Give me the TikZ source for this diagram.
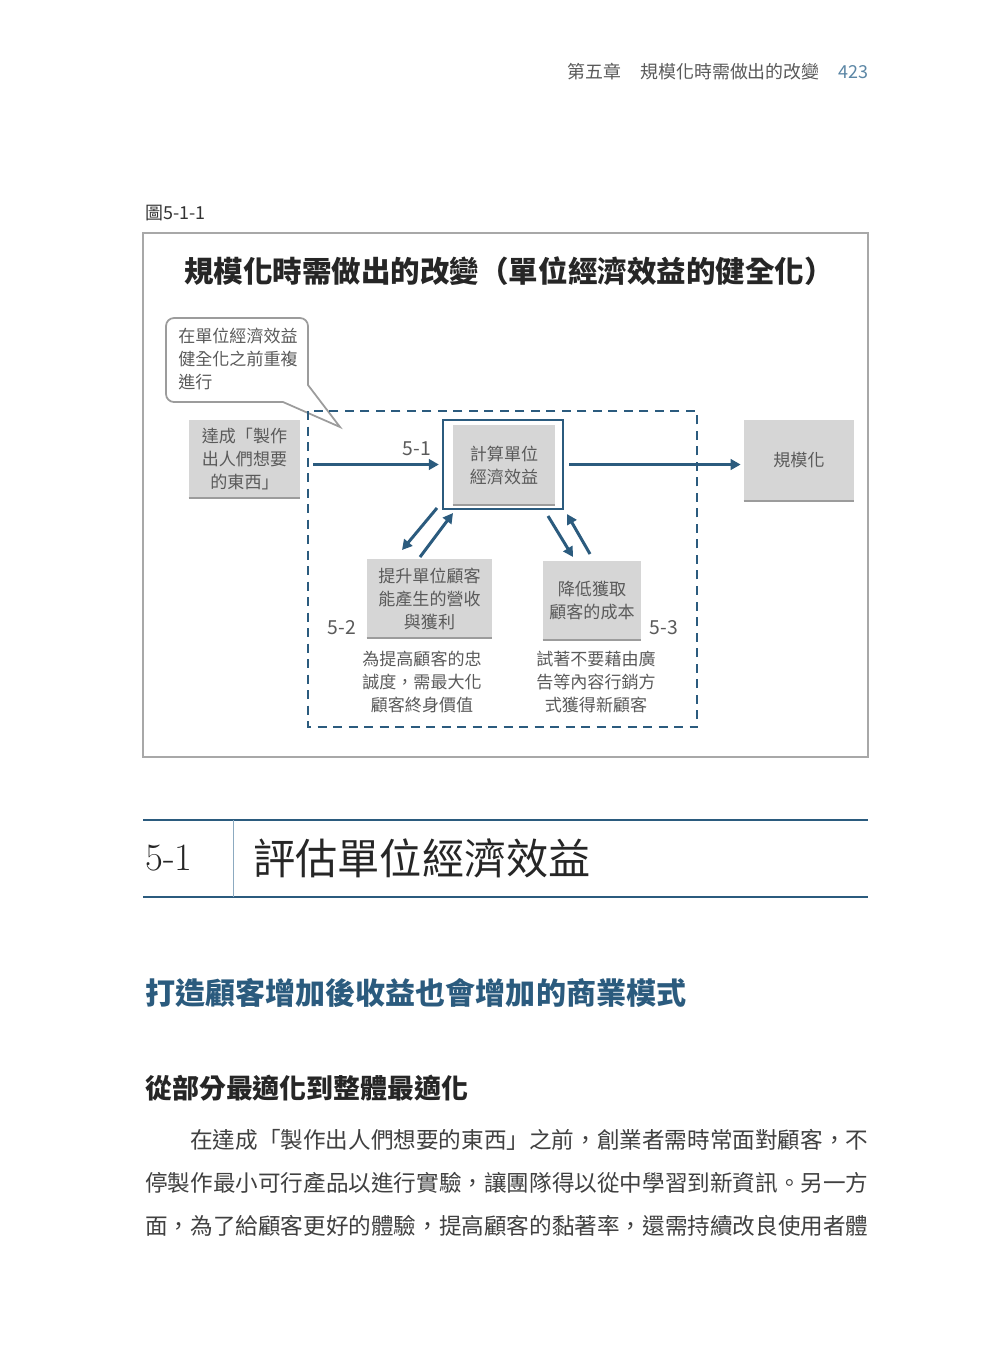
\documentclass[tikz,border=0pt]{standalone}
\usepackage{fontspec}
\newfontfamily\cjk{Noto Sans CJK TC}
\usetikzlibrary{arrows.meta}
\definecolor{inkblue}{HTML}{2B5B7E}
\definecolor{boxgray}{HTML}{D6D6D6}
\definecolor{edgegray}{HTML}{9C9C9C}
\definecolor{txtgray}{HTML}{5A5A5A}
\definecolor{framegray}{HTML}{A8A8A8}
\definecolor{pageblue}{HTML}{5B86A5}

\begin{document}
\begin{tikzpicture}[x=0.2mm, y=-0.2mm,
  graybox/.style={fill=boxgray, align=center, text=txtgray, inner sep=0pt,
    font=\cjk\fontsize{9.7}{13.1}\selectfont},
  boxedge/.style={draw=edgegray, line width=1.2pt},
  flow/.style={draw=inkblue, line width=1.7pt, -{Triangle[length=2mm,width=2.1mm]}},
  steplabel/.style={font=\cjk\fontsize{11}{13}\selectfont, text=txtgray},
  smalltext/.style={font=\cjk\fontsize{9.7}{13.1}\selectfont, text=txtgray, align=center},
  plain/.style={anchor=west, inner sep=0pt}]
  \fill[white] (0,0) rectangle (1000,1371);
  \useasboundingbox (0,0) rectangle (1000,1371);
  % running head
  \node[plain, font=\cjk\fontsize{10.2}{12}\selectfont, text=txtgray] (chap) at (567,72) {第五章};
  \node[anchor=east, inner sep=0pt, font=\cjk\fontsize{10.2}{12}\selectfont, text=txtgray] (chaptitle) at (820,72) {規模化時需做出的改變};
  \node[plain, font=\cjk\fontsize{10.2}{12}\selectfont, text=pageblue] (pageno) at (838,72) {423};
  % figure
  \node[plain, font=\cjk\fontsize{10.2}{12}\selectfont, text=black!80] (figlabel) at (145,213) {圖5-1-1};
  \draw[framegray, line width=0.6pt] (143,233) rectangle (868,757);
  \node[font=\cjk\bfseries\fontsize{16.8}{20}\selectfont, text=black!85] (title) at (509,271) {規模化時需做出的改變（單位經濟效益的健全化）};
  \draw[edgegray, line width=1pt, rounded corners=1.6mm] (166,360) |- (308,318)
    [sharp corners] -- (308,385) -- (340,427) -- (283,402)
    [rounded corners=1.6mm] -| (166,360) -- cycle;
  \node[plain, align=left, font=\cjk\fontsize{9.7}{13.1}\selectfont, text=txtgray] (note) at (178,359) {在單位經濟效益\\健全化之前重複\\進行};
  \draw[inkblue, line width=1.1pt, dash pattern=on 1.8mm off 1.3mm] (308,411) rectangle (697,727);
  % boxes
  \node[graybox, minimum width=22.2mm, minimum height=15.6mm] (want) at (244.5,459) {達成「製作\\出人們想要\\的東西」};
  \node[graybox, minimum width=20.4mm, minimum height=16mm] (calc) at (504,465) {計算單位\\經濟效益};
  \node[draw=inkblue, line width=1.3pt, minimum width=24mm, minimum height=17.8mm] (calcframe) at (503,464.5) {};
  \node[graybox, minimum width=22mm, minimum height=16.2mm] (scale) at (799,460.5) {規模化};
  \node[graybox, minimum width=25mm, minimum height=15.8mm] (revenue) at (429.5,598.5) {提升單位顧客\\能產生的營收\\與獲利};
  \node[graybox, minimum width=19.6mm, minimum height=15.8mm] (cac) at (592,600.5) {降低獲取\\顧客的成本};
  \foreach \n in {want,calc,scale,revenue,cac}
    \draw[boxedge] (\n.south west) -- (\n.south east);
  % arrows
  \coordinate (in51) at (313,464.5);
  \draw[flow, shorten >=0.6mm] (in51) -- (calcframe.west);
  \draw[flow, shorten <=1mm, shorten >=0.6mm] (calcframe.east) -- (calcframe.east -| scale.west);
  \coordinate (downL) at (437,508);
  \coordinate (downLend) at (402,550);
  \coordinate (upL) at (420,557);
  \coordinate (upLend) at (453,513);
  \coordinate (downR) at (548,516);
  \coordinate (downRend) at (573,557);
  \coordinate (upR) at (590,554);
  \coordinate (upRend) at (567,514);
  \draw[flow] (downL) -- (downLend);
  \draw[flow] (upL) -- (upLend);
  \draw[flow] (downR) -- (downRend);
  \draw[flow] (upR) -- (upRend);
  \node[steplabel] (lab51) at (417,449) {5-1};
  \node[steplabel] (lab52) at (342,628) {5-2};
  \node[steplabel] (lab53) at (664,628) {5-3};
  \node[smalltext] (why52) at (422,682) {為提高顧客的忠\\誠度，需最大化\\顧客終身價值};
  \node[smalltext] (why53) at (596,682) {試著不要藉由廣\\告等內容行銷方\\式獲得新顧客};
  % section head
  \draw[inkblue, line width=1.5pt] (143,820) -- (868,820);
  \draw[inkblue, line width=1.5pt] (143,897) -- (868,897);
  \draw[pageblue!70, line width=0.5pt] (233,820) -- (233,897);
  \node[plain, font=\fontsize{22}{26}\selectfont, text=black!85] (secno) at (145,858) {5-1};
  \node[plain, font=\cjk\fontsize{24}{28}\selectfont, text=black!85] (sectitle) at (253,858) {評估單位經濟效益};
  \node[plain, font=\cjk\bfseries\fontsize{17.1}{20}\selectfont, text=inkblue] (head1) at (145,993) {打造顧客增加後收益也會增加的商業模式};
  \node[plain, font=\cjk\bfseries\fontsize{15.3}{18}\selectfont, text=black!85] (head2) at (145,1088) {從部分最適化到整體最適化};
  % body text
  \node[plain, font=\cjk\fontsize{12.86}{24}\selectfont, text=black!75] (line1) at (190,1140) {在達成「製作出人們想要的東西」之前，創業者需時常面對顧客，不};
  \node[plain, font=\cjk\fontsize{12.86}{24}\selectfont, text=black!75] (line2) at (145,1183) {停製作最小可行產品以進行實驗，讓團隊得以從中學習到新資訊。另一方};
  \node[plain, font=\cjk\fontsize{12.86}{24}\selectfont, text=black!75] (line3) at (145,1226) {面，為了給顧客更好的體驗，提高顧客的黏著率，還需持續改良使用者體};
\end{tikzpicture}
\end{document}
